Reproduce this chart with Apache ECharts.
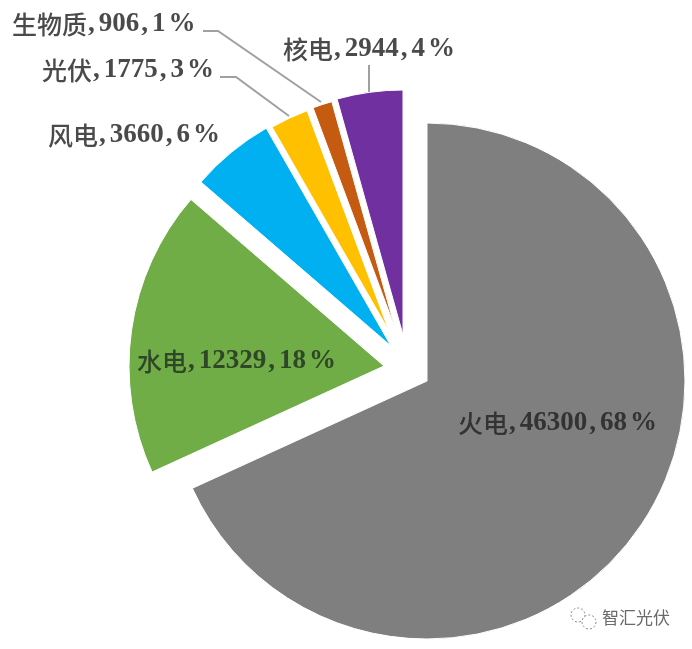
<!DOCTYPE html>
<html><head><meta charset="utf-8">
<style>html,body{margin:0;padding:0;background:#fff}#c{width:692px;height:649px}</style>
<script src="https://cdn.jsdelivr.net/npm/echarts@6/dist/echarts.min.js"></script>
</head><body><div id="c"></div>
<script>
// Data
const names = ['火电','水电','风电','光伏','生物质','核电'];
const values = [46300,12329,3660,1775,906,2944];
const percents = [68,18,6,3,1,4];
// Presentation
const colors = ['#7f7f7f','#70ad47','#00b0f0','#ffc000','#c55a11','#7030a0'];
const centers = [[427,381],[384,366],[391,346],[389,331],[395,328],[403,335]];
const radii = [258,255,251,235,235,245];
const labelPos = [[458,423],[137,361],[48,135],[42,70],[12,24],[283,49]];
const labelColors = ['#333333','#2f4628','#4a4a4a','#4a4a4a','#4a4a4a','#4a4a4a'];
const leaders = [null,null,null,
  [[220,77],[236,77],[289,116]],
  [[203,31],[218,31],[321,102]],
  [[369,65],[369,92]]];

const total = values.reduce((a,b)=>a+b,0);
let cum = 0;
const series = names.map((name,i)=>{
  const start = 90 - cum/total*360;
  cum += values[i];
  const end = 90 - cum/total*360;
  const col = labelColors[i];
  const cn = {fontFamily:'"Noto Sans CJK SC"',fontSize:25,fontWeight:500,color:col};
  const num = {fontFamily:'"Liberation Serif"',fontSize:27,fontWeight:'bold',color:col};
  return {
    type:'pie', name, silent:true, animation:false,
    center:centers[i], radius:[0,radii[i]],
    startAngle:start, endAngle:end, clockwise:true,
    avoidLabelOverlap:false,
    data:[{name,value:values[i]}],
    itemStyle:{color:colors[i],borderColor:'#fff',borderWidth:1},
    label:{show:true,position:'outside',
      formatter:`{c|${name}}{p|,}{n|${values[i]}}{p|,}{n|${percents[i]}}{q|%}`,
      rich:{c:cn,n:{...num,padding:[0,1]},p:{...num,padding:[0,3,0,1]},q:{...num,padding:[0,0,0,2]}}},
    labelLine:{show:!!leaders[i],lineStyle:{color:'#a0a0a0',width:2}},
    labelLayout:()=>({x:labelPos[i][0],y:labelPos[i][1],align:'left',verticalAlign:'middle',
      labelLinePoints:leaders[i]||undefined})
  };
});

const chart = echarts.init(document.getElementById('c'),null,{renderer:'canvas'});
chart.setOption({
  animation:false,
  backgroundColor:'#fff',
  series,
  graphic:[
    {type:'circle',shape:{cx:578,cy:615,r:7},style:{fill:'none',stroke:'#8a8a8a',lineWidth:1,lineDash:[2,2]}},
    {type:'circle',shape:{cx:589,cy:622,r:7},style:{fill:'#fff',stroke:'#8a8a8a',lineWidth:1,lineDash:[2,2]}},
    {type:'text',x:602,y:609,style:{text:'智汇光伏',fontFamily:'"Noto Sans CJK SC"',fontSize:17,fill:'#6a6a6a'}}
  ]
});
</script></body></html>
